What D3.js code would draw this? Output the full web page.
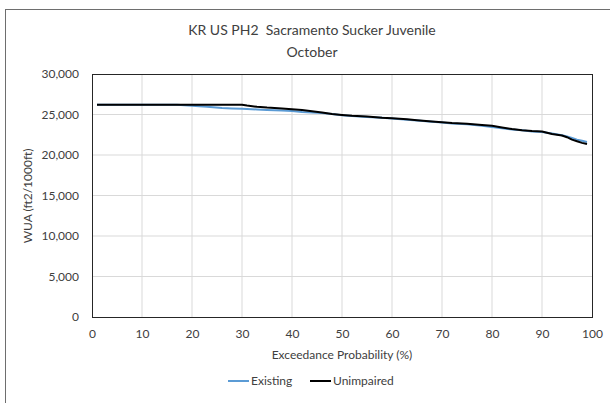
<!DOCTYPE html>
<html>
<head>
<meta charset="utf-8">
<script src="https://cdn.jsdelivr.net/npm/d3@7"></script>
<style>
  body { margin: 0; background: #fff; }
  text { font-family: Lato, "Open Sans", sans-serif; fill: #404040; }
</style>
</head>
<body>
<div id="chart"></div>
<script>
// exceedance probability (%)
var probs = [1, 5, 10, 15, 17, 20, 23, 26, 28, 30, 31, 33, 35, 38, 40, 42, 44, 46, 48, 50,
             52, 55, 58, 60, 63, 65, 68, 70, 72, 75, 78, 80, 82, 84, 86, 88, 90, 92, 94, 95,
             96, 97, 98, 99];
var existing = [26200, 26200, 26200, 26200, 26200, 26080, 25950, 25800, 25750, 25700, 25680, 25620,
                25570, 25480, 25420, 25320, 25250, 25170, 25050, 24900, 24800, 24700, 24600, 24500,
                24350, 24250, 24100, 24000, 23900, 23800, 23600, 23450, 23300, 23150, 23050, 22900,
                22850, 22650, 22450, 22300, 22100, 21900, 21750, 21600];
var unimpaired = [26200, 26200, 26200, 26200, 26200, 26200, 26200, 26200, 26200, 26200, 26100, 25950,
                  25850, 25750, 25650, 25550, 25400, 25250, 25050, 24950, 24850, 24750, 24600, 24550,
                  24400, 24300, 24150, 24050, 23950, 23850, 23700, 23600, 23400, 23200, 23050, 22950,
                  22900, 22600, 22400, 22200, 21900, 21700, 21500, 21350];
var xTicks = [0, 10, 20, 30, 40, 50, 60, 70, 80, 90, 100];
var yTicks = [0, 5000, 10000, 15000, 20000, 25000, 30000];
var seriesNames = ["Existing", "Unimpaired"];
var seriesColors = ["#5b9bd5", "#000000"];

var svgWidth = 610, svgHeight = 403;
var margin = { top: 74, right: 18, bottom: 86, left: 92 },
    width = svgWidth - margin.left - margin.right,
    height = svgHeight - margin.top - margin.bottom;

var svg = d3.select("#chart").append("svg")
    .attr("width", svgWidth)
    .attr("height", svgHeight);

// chart area border (runs off the right and bottom edges)
svg.append("rect")
    .attr("x", 5.5).attr("y", 9.5)
    .attr("width", 640).attr("height", 440)
    .attr("fill", "none")
    .attr("stroke", "#6e6e6e");

// title
svg.append("text")
    .attr("x", 312).attr("y", 35)
    .attr("text-anchor", "middle")
    .style("font-size", "14px")
    .attr("xml:space", "preserve")
    .text("KR US PH2  Sacramento Sucker Juvenile");
svg.append("text")
    .attr("x", 312).attr("y", 57)
    .attr("text-anchor", "middle")
    .style("font-size", "14px")
    .text("October");

var g = svg.append("g")
    .attr("transform", "translate(" + margin.left + "," + margin.top + ")");

var x = d3.scaleLinear().domain([0, 100]).range([0, width]);
var y = d3.scaleLinear().domain([0, 30000]).range([height, 0]);

// gridlines
g.append("g")
    .selectAll("line")
    .data(xTicks.slice(1, -1))
    .enter().append("line")
    .attr("x1", d => x(d)).attr("x2", d => x(d))
    .attr("y1", 0).attr("y2", height)
    .attr("stroke", "#d9d9d9");
g.append("g")
    .selectAll("line")
    .data(yTicks.slice(1, -1))
    .enter().append("line")
    .attr("x1", 0).attr("x2", width)
    .attr("y1", d => y(d)).attr("y2", d => y(d))
    .attr("stroke", "#d9d9d9");

// axes (labels only)
var xAxis = d3.axisBottom(x).tickValues(xTicks).tickSize(0).tickPadding(12);
var yAxis = d3.axisLeft(y).tickValues(yTicks).tickSize(0).tickPadding(13)
    .tickFormat(d3.format(","));

g.append("g")
    .attr("transform", "translate(0," + height + ")")
    .call(xAxis)
    .call(a => a.select(".domain").remove())
    .selectAll("text").style("font-size", "12px").style("font-family", "Lato, sans-serif").attr("fill", "#404040");
g.append("g")
    .call(yAxis)
    .call(a => a.select(".domain").remove())
    .selectAll("text").style("font-size", "12px").style("font-family", "Lato, sans-serif").attr("fill", "#404040");

// plot border
g.append("rect")
    .attr("x", 0.5).attr("y", 0.5)
    .attr("width", width).attr("height", height)
    .attr("fill", "none")
    .attr("stroke", "#262626");

// lines
var line = d3.line()
    .x(d => x(d[0]))
    .y(d => y(d[1]));

[existing, unimpaired].forEach((vals, i) => {
    g.append("path")
        .datum(probs.map((p, j) => [p, vals[j]]))
        .attr("d", line)
        .attr("fill", "none")
        .attr("stroke", seriesColors[i])
        .attr("stroke-width", 2)
        .attr("stroke-linejoin", "round");
});

// axis titles
svg.append("text")
    .attr("x", 342).attr("y", 359)
    .attr("text-anchor", "middle")
    .style("font-size", "12px")
    .text("Exceedance Probability (%)");
svg.append("text")
    .attr("transform", "translate(32,196) rotate(-90)")
    .attr("text-anchor", "middle")
    .style("font-size", "12px")
    .text("WUA (ft2/1000ft)");

// legend
var legendX = [228, 310];
seriesNames.forEach((name, i) => {
    var lg = svg.append("g").attr("transform", "translate(" + legendX[i] + ",381)");
    lg.append("line")
        .attr("x1", 0).attr("x2", 21)
        .attr("stroke", seriesColors[i])
        .attr("stroke-width", 2);
    lg.append("text")
        .attr("x", 23).attr("y", 4)
        .style("font-size", "12px")
        .text(name);
});
</script>
</body>
</html>
